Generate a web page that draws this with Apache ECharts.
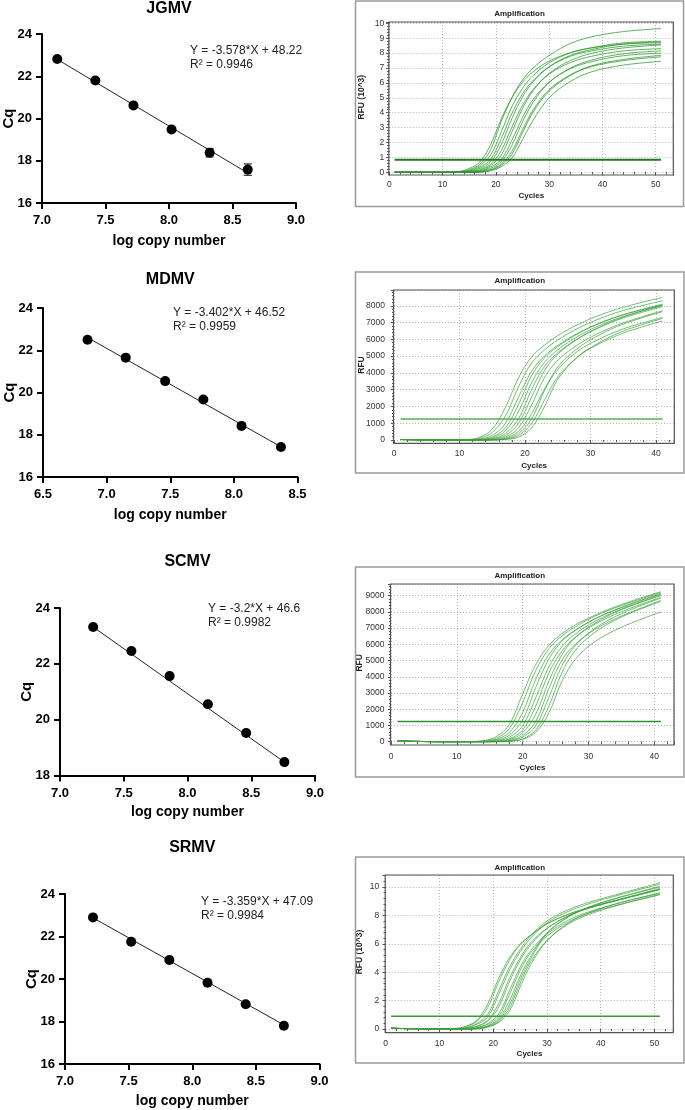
<!DOCTYPE html>
<html><head><meta charset="utf-8">
<script src="https://cdn.jsdelivr.net/npm/echarts@6/dist/echarts.min.js"></script>
<style>html,body{margin:0;padding:0;background:#fff}#c{width:685px;height:1110px}</style>
</head><body><div id="c"></div>
<script>
// ---------- Standard curves ----------
const jgmvLogCopy = [7.12, 7.42, 7.72, 8.02, 8.32, 8.62];
const jgmvCq = [22.82, 21.8, 20.62, 19.48, 18.38, 17.58];
const jgmvCqErr = [0.04, 0.06, 0.05, 0.07, 0.2, 0.27];
const jgmvFitX = [7.12, 8.62];
const jgmvFitY = [22.8, 17.42];

const mdmvLogCopy = [6.85, 7.15, 7.46, 7.76, 8.06, 8.37];
const mdmvCq = [22.5, 21.65, 20.54, 19.67, 18.42, 17.42];
const mdmvFitX = [6.85, 8.37];
const mdmvFitY = [22.6, 17.43];

const scmvLogCopy = [7.26, 7.56, 7.86, 8.16, 8.46, 8.76];
const scmvCq = [23.32, 22.46, 21.56, 20.55, 19.52, 18.48];
const scmvFitX = [7.26, 8.76];
const scmvFitY = [23.32, 18.48];

const srmvLogCopy = [7.22, 7.52, 7.82, 8.12, 8.42, 8.72];
const srmvCq = [22.9, 21.75, 20.89, 19.82, 18.81, 17.8];
const srmvFitX = [7.22, 8.72];
const srmvFitY = [22.88, 17.84];

const jgmvEquation = ['Y = -3.578*X + 48.22', 'R\u00b2 = 0.9946'];
const mdmvEquation = ['Y = -3.402*X + 46.52', 'R\u00b2 = 0.9959'];
const scmvEquation = ['Y = -3.2*X + 46.6', 'R\u00b2 = 0.9982'];
const srmvEquation = ['Y = -3.359*X + 47.09', 'R\u00b2 = 0.9984'];

// ---------- Amplification curves ----------
const jgmvCycles = [1, 10, 13, 15, 17, 19, 21, 23, 25, 27, 30, 34, 38, 44, 51];
const jgmvRFU = [
  [0, 0, 0.05, 0.26, 0.7, 1.85, 3.57, 5.0, 6.04, 6.75, 7.47, 8.03, 8.35, 8.6, 8.7],
  [0, 0, 0.03, 0.18, 0.55, 1.5, 3.4, 5.0, 6.2, 7.0, 7.85, 8.65, 9.1, 9.45, 9.65],
  [0, 0, 0.02, 0.13, 0.45, 1.15, 2.7, 4.4, 5.64, 6.5, 7.35, 8.02, 8.37, 8.69, 8.8],
  [0, 0, 0.01, 0.08, 0.35, 0.85, 2.25, 3.95, 5.26, 6.17, 7.08, 7.79, 8.15, 8.47, 8.6],
  [0, 0, 0, 0.05, 0.26, 0.7, 1.85, 3.6, 5.05, 6.08, 7.08, 7.85, 8.24, 8.62, 8.75],
  [0, 0, 0, 0.03, 0.18, 0.55, 1.45, 3.03, 4.49, 5.56, 6.59, 7.37, 7.79, 8.15, 8.3],
  [0, 0, 0, 0.02, 0.13, 0.45, 1.15, 2.7, 4.28, 5.48, 6.64, 7.5, 7.99, 8.35, 8.55],
  [0, 0, 0, 0.01, 0.08, 0.35, 0.85, 2.15, 3.67, 4.89, 6.06, 6.96, 7.43, 7.83, 8.0],
  [0, 0, 0, 0, 0.05, 0.26, 0.7, 1.8, 3.38, 4.7, 6.03, 7.0, 7.54, 7.96, 8.15],
  [0, 0, 0, 0, 0.03, 0.18, 0.55, 1.4, 2.85, 4.19, 5.55, 6.55, 7.1, 7.5, 7.75],
  [0, 0, 0, 0, 0.02, 0.14, 0.47, 1.2, 2.65, 4.05, 5.45, 6.5, 7.15, 7.58, 7.85],
  [0, 0, 0, 0, 0.01, 0.1, 0.38, 0.95, 2.2, 3.5, 5.0, 6.1, 6.75, 7.2, 7.45]
];
const jgmvThreshold = 0.85;

const mdmvCycles = [1, 8, 11, 13, 15, 17, 19, 21, 23, 25, 28, 31, 35, 41];
const mdmvRFU = [
  [30, 0, 25, 150, 650, 1930, 3700, 4950, 5660, 6220, 6870, 7380, 7910, 8500],
  [30, 0, 14, 90, 450, 1420, 3160, 4580, 5380, 5960, 6640, 7170, 7720, 8300],
  [30, 0, 0, 50, 270, 980, 2550, 4100, 5020, 5640, 6350, 6900, 7460, 8050],
  [30, 0, 0, 30, 170, 720, 2100, 3830, 4900, 5560, 6310, 6890, 7470, 8100],
  [30, 0, 0, 20, 120, 550, 1680, 3400, 4640, 5370, 6160, 6760, 7360, 8000],
  [30, 0, 0, 10, 70, 380, 1250, 3000, 4400, 5200, 6030, 6650, 7270, 7950],
  [30, 0, 0, 0, 50, 270, 980, 2550, 4150, 5120, 6000, 6650, 7330, 8050],
  [30, 0, 0, 0, 30, 170, 720, 2080, 3730, 4750, 5660, 6320, 6980, 7700],
  [30, 0, 0, 0, 18, 110, 510, 1570, 3050, 4190, 5280, 5950, 6620, 7300],
  [30, 0, 0, 0, 10, 70, 380, 1250, 2970, 4350, 5450, 6190, 6910, 7650],
  [30, 0, 0, 0, 0, 50, 270, 980, 2400, 3750, 4940, 5670, 6370, 7100],
  [30, 0, 0, 0, 0, 30, 170, 720, 2000, 3610, 4940, 5730, 6490, 7250]
];
const mdmvThreshold = 1250;

const scmvCycles = [1, 8, 12, 14, 16, 18, 20, 22, 24, 26, 28, 31, 35, 41];
const scmvRFU = [
  [40, 0, 10, 60, 310, 1070, 2950, 4770, 5950, 6670, 7200, 7800, 8450, 9250],
  [40, 0, 5, 40, 210, 820, 2410, 4400, 5740, 6530, 7080, 7740, 8390, 9200],
  [40, 0, 0, 25, 140, 580, 1800, 3850, 5380, 6280, 6880, 7570, 8250, 9100],
  [40, 0, 0, 15, 90, 410, 1340, 3350, 5100, 6200, 6850, 7580, 8290, 9150],
  [40, 0, 0, 8, 55, 280, 980, 2720, 4620, 5870, 6640, 7420, 8170, 9000],
  [40, 0, 0, 0, 30, 180, 720, 2200, 4250, 5600, 6430, 7240, 8010, 8900],
  [40, 0, 0, 0, 20, 130, 550, 1700, 3750, 5380, 6420, 7310, 8130, 9050],
  [40, 0, 0, 0, 10, 80, 380, 1250, 3280, 5050, 6000, 6920, 7750, 8700],
  [40, 0, 0, 0, 8, 55, 280, 980, 2750, 4700, 5920, 6990, 7890, 8850],
  [40, 0, 0, 0, 0, 30, 180, 720, 2200, 4280, 5620, 6750, 7680, 8650],
  [40, 0, 0, 0, 0, 25, 140, 580, 1780, 3750, 5080, 6170, 7050, 8000]
];
const scmvThreshold = 1250;

const srmvCycles = [1, 10, 13, 15, 17, 19, 21, 23, 25, 27, 30, 34, 38, 44, 51];
const srmvRFU = [
  [0.05, 0, 0.04, 0.21, 0.63, 1.78, 3.56, 5.0, 5.97, 6.63, 7.41, 8.08, 8.56, 9.15, 9.8],
  [0.05, 0, 0.03, 0.17, 0.55, 1.53, 3.31, 4.83, 5.95, 6.6, 7.4, 8.09, 8.58, 9.16, 9.85],
  [0.05, 0, 0.01, 0.1, 0.39, 1.04, 2.68, 4.34, 5.6, 6.58, 7.61, 8.41, 8.95, 9.58, 10.3],
  [0.05, 0, 0, 0.07, 0.33, 0.86, 2.41, 4.12, 5.44, 6.41, 7.48, 8.29, 8.84, 9.5, 10.2],
  [0.05, 0, 0, 0.04, 0.21, 0.63, 1.78, 3.56, 5.0, 6.09, 7.1, 7.97, 8.53, 9.16, 9.85],
  [0.05, 0, 0, 0.03, 0.17, 0.55, 1.53, 3.31, 4.83, 5.95, 7.07, 7.98, 8.56, 9.19, 9.9],
  [0.05, 0, 0, 0.01, 0.1, 0.39, 1.04, 2.68, 4.34, 5.54, 6.69, 7.67, 8.28, 8.92, 9.6],
  [0.05, 0, 0, 0, 0.07, 0.33, 0.86, 2.41, 4.12, 5.39, 6.54, 7.55, 8.19, 8.82, 9.5],
  [0.05, 0, 0, 0, 0.05, 0.24, 0.7, 1.96, 3.72, 5.14, 6.78, 7.91, 8.61, 9.31, 10.0],
  [0.05, 0, 0, 0, 0.03, 0.19, 0.61, 1.69, 3.48, 4.96, 6.72, 7.9, 8.62, 9.34, 10.05],
  [0.05, 0, 0, 0, 0.01, 0.16, 0.52, 1.46, 3.22, 4.76, 6.23, 7.4, 8.1, 8.8, 9.45],
  [0.05, 0, 0, 0, 0.02, 0.13, 0.46, 1.25, 2.95, 4.55, 6.22, 7.47, 8.22, 8.95, 9.55]
];
const srmvThreshold = 0.9;

// ---------- Build ----------
const FONT = '"Liberation Sans", Arial, Helvetica, sans-serif';
const grid = [], xAxis = [], yAxis = [], series = [], graphic = [];

function addText(x, y, text, font, align, color) {
  graphic.push({type: 'text', x: x, y: y, silent: true, z: 100,
    style: {text: text, font: font, fill: color || '#000',
      textAlign: align, textVerticalAlign: 'middle', align: align, verticalAlign: 'middle'}});
}

function stdPanel(c) {
  const gi = grid.length;
  grid.push({left: c.left, top: c.top, width: c.width, height: c.height, containLabel: false});
  xAxis.push({gridIndex: gi, type: 'value', min: c.xMin, max: c.xMax, interval: 0.5,
    name: 'log copy number', nameLocation: 'middle', nameGap: c.xNameGap, nameMoveOverlap: false,
    nameTextStyle: {fontFamily: FONT, fontSize: 14, fontWeight: 'bold', color: '#000'},
    axisLine: {show: true, onZero: false, lineStyle: {color: '#000', width: 2}},
    axisTick: {show: true, length: 6, lineStyle: {color: '#000', width: 2}},
    axisLabel: {fontFamily: FONT, fontSize: 13, fontWeight: 'bold', color: '#000', margin: 11,
      formatter: v => v.toFixed(1)},
    splitLine: {show: false}});
  yAxis.push({gridIndex: gi, type: 'value', min: c.yMin, max: c.yMax, interval: 2,
    name: 'Cq', nameLocation: 'middle', nameGap: c.yNameGap, nameMoveOverlap: false,
    nameTextStyle: {fontFamily: FONT, fontSize: 15, fontWeight: 'bold', color: '#000'},
    axisLine: {show: true, onZero: false, lineStyle: {color: '#000', width: 2}},
    axisTick: {show: true, length: 6, lineStyle: {color: '#000', width: 2}},
    axisLabel: {fontFamily: FONT, fontSize: 13, fontWeight: 'bold', color: '#000', margin: 10},
    splitLine: {show: false}});
  series.push({type: 'line', xAxisIndex: gi, yAxisIndex: gi, silent: true,
    data: [[c.fitX[0], c.fitY[0]], [c.fitX[1], c.fitY[1]]],
    showSymbol: false, symbol: 'none', lineStyle: {color: '#222', width: 1}, z: 2});
  if (c.err) {
    series.push({type: 'custom', xAxisIndex: gi, yAxisIndex: gi, silent: true, z: 3,
      encode: {x: 0, y: [1, 2]},
      data: c.x.map((x, i) => [x, c.y[i] - c.err[i], c.y[i] + c.err[i]]),
      renderItem: function (params, api) {
        const lo = api.coord([api.value(0), api.value(1)]);
        const hi = api.coord([api.value(0), api.value(2)]);
        const w = 4, st = {stroke: '#333', lineWidth: 1.2};
        return {type: 'group', children: [
          {type: 'line', shape: {x1: lo[0], y1: lo[1], x2: hi[0], y2: hi[1]}, style: st},
          {type: 'line', shape: {x1: lo[0] - w, y1: lo[1], x2: lo[0] + w, y2: lo[1]}, style: st},
          {type: 'line', shape: {x1: hi[0] - w, y1: hi[1], x2: hi[0] + w, y2: hi[1]}, style: st}
        ]};
      }});
  }
  series.push({type: 'scatter', xAxisIndex: gi, yAxisIndex: gi, silent: true, z: 4,
    data: c.x.map((x, i) => [x, c.y[i]]), symbol: 'circle', symbolSize: 10,
    itemStyle: {color: '#000', opacity: 1}});
  addText(c.left + c.width / 2, c.titleY, c.title, 'bold 16px ' + FONT, 'center');
  addText(c.eqX, c.eqY, c.eq[0], '12px ' + FONT, 'left', '#222');
  addText(c.eqX, c.eqY + 14, c.eq[1], '12px ' + FONT, 'left', '#222');
}

function ampPanel(c) {
  const gi = grid.length;
  grid.push({left: c.left, top: c.top, width: c.width, height: c.height, containLabel: false});
  const step = c.yInterval;
  const tickStyle = {color: '#555', width: 1};
  xAxis.push({gridIndex: gi, type: 'value', min: 0, max: c.xMax, interval: 10, offset: c.xOffset,
    name: 'Cycles', nameLocation: 'middle', nameGap: c.xNameGap, nameMoveOverlap: false,
    nameTextStyle: {fontFamily: FONT, fontSize: 8, fontWeight: 'bold', color: '#222'},
    axisLine: {show: false},
    axisTick: {show: true, length: 3, lineStyle: tickStyle},
    minorTick: {show: true, splitNumber: 5, length: 2, lineStyle: tickStyle},
    axisLabel: {fontFamily: FONT, fontSize: 8.5, color: '#333', margin: c.xLabelMargin, showMaxLabel: false,
      formatter: v => (Math.abs(v / 10 - Math.round(v / 10)) < 1e-6 ? String(v) : '')},
    splitLine: {show: true, lineStyle: {color: '#b5b5b5', type: [1, 2], width: 1}}});
  yAxis.push({gridIndex: gi, type: 'value', min: 0, max: c.yMax, interval: step,
    name: c.yName, nameLocation: 'middle', nameGap: c.yNameGap, nameMoveOverlap: false,
    nameTextStyle: {fontFamily: FONT, fontSize: 8.5, fontWeight: 'bold', color: '#222'},
    axisLine: {show: false},
    axisTick: {show: true, length: 3, lineStyle: tickStyle},
    minorTick: {show: true, splitNumber: 5, length: 2, lineStyle: tickStyle},
    axisLabel: {fontFamily: FONT, fontSize: 8.5, color: '#333', margin: c.yLabelMargin, showMaxLabel: false,
      formatter: v => (Math.abs(v / step - Math.round(v / step)) < 1e-6 ? String(v) : '')},
    splitLine: {show: true, lineStyle: {color: '#b5b5b5', type: [1, 2], width: 1}}});
  // mirrored tick marks on the top and right frame
  const topIdx = xAxis.length;
  xAxis.push({gridIndex: gi, type: 'value', position: 'top', min: 0, max: c.xMax, interval: 10,
    axisLine: {show: false}, axisLabel: {show: false}, splitLine: {show: false},
    axisTick: {show: true, inside: true, length: 3, lineStyle: tickStyle},
    minorTick: {show: true, splitNumber: 5, length: 2, lineStyle: tickStyle}});
  const rightIdx = yAxis.length;
  yAxis.push({gridIndex: gi, type: 'value', position: 'right', min: 0, max: c.yMax, interval: step,
    axisLine: {show: false}, axisLabel: {show: false}, splitLine: {show: false},
    axisTick: {show: true, inside: true, length: 3, lineStyle: tickStyle},
    minorTick: {show: true, splitNumber: 5, length: 2, lineStyle: tickStyle}});
  const xi = topIdx - 1, yi = rightIdx - 1;
  c.curves.forEach(curve => {
    series.push({type: 'line', xAxisIndex: xi, yAxisIndex: yi, silent: true, clip: false,
      data: c.cycles.map((cy, i) => [cy, curve[i]]), showSymbol: false, symbol: 'none',
      smooth: 0.35, lineStyle: {color: c.curveColor, width: 1}, z: 2});
  });
  series.push({type: 'line', xAxisIndex: xi, yAxisIndex: yi, silent: true, clip: false,
    data: [[1, c.threshold], [c.cycles[c.cycles.length - 1], c.threshold]],
    showSymbol: false, symbol: 'none', lineStyle: {color: c.thrColor, width: c.thrWidth}, z: 3});
  // plot frame and outer box
  graphic.push({type: 'rect', silent: true, z: 50,
    shape: {x: c.left - 0.5, y: c.top, width: c.width + 0.5, height: c.height + c.xOffset},
    style: {fill: 'none', stroke: '#555', lineWidth: 1.2}});
  graphic.push({type: 'rect', silent: true, z: 50,
    shape: {x: c.box[0], y: c.box[1], width: c.box[2], height: c.box[3]},
    style: {fill: 'none', stroke: '#9a9a9a', lineWidth: 1.5}});
  addText(c.box[0] + c.box[2] / 2, c.titleY, 'Amplification', 'bold 8px ' + FONT, 'center', '#222');
}

stdPanel({left: 42, top: 34, width: 254, height: 169, xMin: 7, xMax: 9, yMin: 16, yMax: 24,
  xNameGap: 31, yNameGap: 26, x: jgmvLogCopy, y: jgmvCq, err: jgmvCqErr, fitX: jgmvFitX, fitY: jgmvFitY,
  title: 'JGMV', titleY: 9, eq: jgmvEquation, eqX: 190, eqY: 50.5});
stdPanel({left: 43, top: 308, width: 254.5, height: 169, xMin: 6.5, xMax: 8.5, yMin: 16, yMax: 24,
  xNameGap: 31, yNameGap: 26, x: mdmvLogCopy, y: mdmvCq, fitX: mdmvFitX, fitY: mdmvFitY,
  title: 'MDMV', titleY: 280, eq: mdmvEquation, eqX: 173, eqY: 312.7});
stdPanel({left: 60, top: 608, width: 255, height: 167.5, xMin: 7, xMax: 9, yMin: 18, yMax: 24,
  xNameGap: 30, yNameGap: 26, x: scmvLogCopy, y: scmvCq, fitX: scmvFitX, fitY: scmvFitY,
  title: 'SCMV', titleY: 562, eq: scmvEquation, eqX: 208, eqY: 608.3});
stdPanel({left: 65, top: 894, width: 254.5, height: 170, xMin: 7, xMax: 9, yMin: 16, yMax: 24,
  xNameGap: 30, yNameGap: 26, x: srmvLogCopy, y: srmvCq, fitX: srmvFitX, fitY: srmvFitY,
  title: 'SRMV', titleY: 847.5, eq: srmvEquation, eqX: 201, eqY: 901.7});

ampPanel({left: 389.3, top: 22, width: 284, height: 150.3, xMax: 53.3, yMax: 10.09, yInterval: 1,
  xOffset: 2.7, xNameGap: 17, xLabelMargin: 5, yLabelMargin: 5, yName: 'RFU (10^3)', yNameGap: 23,
  cycles: jgmvCycles, curves: jgmvRFU, threshold: jgmvThreshold,
  curveColor: 'rgba(46,150,46,0.75)', thrColor: '#1f7a1f', thrWidth: 2,
  box: [355.5, 1, 328, 205.5], titleY: 13.3});
ampPanel({left: 394, top: 290, width: 280.3, height: 150, xMax: 42.8, yMax: 8940, yInterval: 1000,
  xOffset: 3.3, xNameGap: 18, xLabelMargin: 6, yLabelMargin: 9, yName: 'RFU', yNameGap: 28,
  cycles: mdmvCycles, curves: mdmvRFU, threshold: mdmvThreshold,
  curveColor: 'rgba(60,160,60,0.7)', thrColor: 'rgba(70,165,70,0.9)', thrWidth: 1.5,
  box: [355.5, 272, 328.5, 201], titleY: 281});
ampPanel({left: 391, top: 584, width: 283, height: 157.7, xMax: 43.0, yMax: 9720, yInterval: 1000,
  xOffset: 3.3, xNameGap: 18.5, xLabelMargin: 7, yLabelMargin: 6.5, yName: 'RFU', yNameGap: 27,
  cycles: scmvCycles, curves: scmvRFU, threshold: scmvThreshold,
  curveColor: 'rgba(60,160,60,0.7)', thrColor: '#2f8f2f', thrWidth: 1.5,
  box: [355.5, 567, 328.5, 210], titleY: 575.7});
ampPanel({left: 385.7, top: 875, width: 287.6, height: 154, xMax: 53.5, yMax: 10.85, yInterval: 2,
  xOffset: 3.7, xNameGap: 17.3, xLabelMargin: 6, yLabelMargin: 6.5, yName: 'RFU (10^3)', yNameGap: 21.5,
  cycles: srmvCycles, curves: srmvRFU, threshold: srmvThreshold,
  curveColor: 'rgba(60,160,60,0.7)', thrColor: '#3a9a3a', thrWidth: 1.5,
  box: [355.5, 857, 328.5, 206], titleY: 867.3});

const chart = echarts.init(document.getElementById('c'), null, {renderer: 'canvas'});
chart.setOption({animation: false, backgroundColor: '#fff', grid, xAxis, yAxis, series, graphic});
</script>
</body></html>
